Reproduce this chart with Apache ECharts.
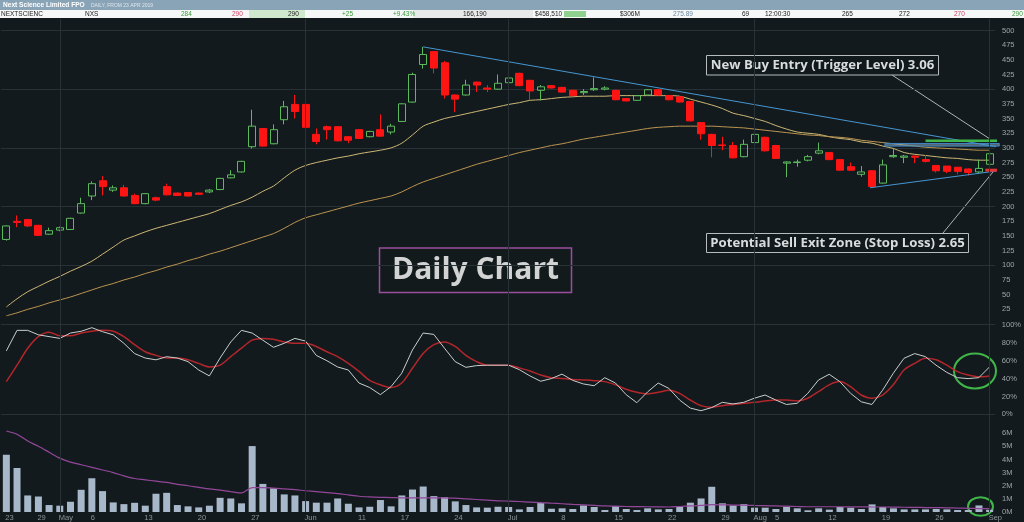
<!DOCTYPE html>
<html>
<head>
<meta charset="utf-8">
<script src="https://cdn.jsdelivr.net/npm/echarts@6/dist/echarts.min.js"></script>
<style>
html,body{margin:0;padding:0;background:#131a1d;}
#chart{width:1024px;height:522px;}
</style>
</head>
<body>
<div id="chart"></div>
<script>
// ---------- categories (trading days 23 Apr 2019 .. 2 Sep 2019, ASX) ----------
const firstDay = '2019-04-23';
const lastDay = '2019-09-02';
const holidays = ['2019-04-25', '2019-06-10'];
const dates = [];
(function () {
  let d = new Date(firstDay + 'T00:00:00Z');
  const end = new Date(lastDay + 'T00:00:00Z');
  while (d <= end) {
    const s = d.toISOString().slice(0, 10);
    const wd = d.getUTCDay();
    if (wd !== 0 && wd !== 6 && holidays.indexOf(s) < 0) dates.push(s);
    d = new Date(d.getTime() + 86400000);
  }
})();

// ---------- tick labels ----------
const tickLabels = {
  '2019-04-23': '23', '2019-04-29': '29', '2019-05-01': 'May', '2019-05-06': '6',
  '2019-05-13': '13', '2019-05-20': '20', '2019-05-27': '27', '2019-06-03': 'Jun',
  '2019-06-11': '11', '2019-06-17': '17', '2019-06-24': '24', '2019-07-01': 'Jul',
  '2019-07-08': '8', '2019-07-15': '15', '2019-07-22': '22', '2019-07-29': '29',
  '2019-08-01': 'Aug', '2019-08-05': '5', '2019-08-12': '12', '2019-08-19': '19',
  '2019-08-26': '26', '2019-09-02': 'Sep'
};
const monthStarts = ['2019-05-01', '2019-06-03', '2019-07-01', '2019-08-01', '2019-09-02'];

// ---------- price (cents) ----------
const opens  = [144,175,178,168,153,160,161,189,218,244, 228,232,219,205,215,234,223,224,223,225,
                229,249,259,302,333,307,348,374,374,323, 336,336,319,331,319,331,327,345,378,442,
                464,445,390,390,412,402,400,411,427,415, 398,406,403,398,394,399,400,398,384,381,
                390,399,389,387,379,343,323,305,304,285, 309,318,304,274,275,279,291,292,280,268,
                255,261,240,285,284,286,280,270,269,267, 264,259,272];
const closes = [167,173,167,151,159,164,180,205,239,234, 232,218,205,222,211,220,219,218,221,228,
                248,254,277,337,303,331,370,362,335,311, 331,312,313,316,328,320,337,375,425,459,
                436,390,383,407,407,400,410,419,406,397, 404,402,395,389,396,401,402,382,380,389,
                399,390,382,378,346,324,304,304,283,306, 323,295,282,276,276,285,295,280,262,262,
                259,234,271,287,286,284,277,261,260,260, 258,265,290];
const lows   = [142,165,165,150,152,158,160,188,211,219, 225,217,204,204,209,219,218,217,220,223,
                228,248,258,299,302,306,340,350,334,306, 314,311,308,315,318,319,323,344,377,435,
                427,384,361,389,395,395,399,410,405,381, 381,401,394,388,390,397,398,381,379,380,
                389,389,381,377,345,314,284,296,282,284, 308,294,281,250,268,277,289,279,261,261,
                251,233,239,283,274,274,275,258,257,255, 253,257,270];
const highs  = [168,185,179,169,164,166,181,215,243,252, 236,237,222,223,217,239,224,225,224,230,
                249,262,278,365,334,340,380,390,375,333, 338,337,320,332,329,357,341,376,428,472,
                465,448,391,416,413,407,425,428,428,416, 407,407,404,399,400,420,405,399,385,390,
                400,400,390,388,380,344,324,319,310,314, 324,319,305,277,280,288,309,293,281,275,
                269,262,280,300,288,287,288,268,267,266, 265,280,291];

// ---------- moving averages on price ----------
const maFast = [29,43,55,64,73,81,90,98,107,119, 131,143,150,157,163,168,173,178,183,188,
                195,202,208,216,226,235,249,262,270,275, 279,283,286,290,293,296,300,308,322,337,
                344,350,354,358,362,366,370,374,377,381, 382,384,386,387,388,388,388,389,389,389,
                389,389,389,388,383,378,373,367,359,355, 350,345,338,332,327,325,323,319,316,314,
                310,308,303,299,292,289,287,285,283,282, 280,279,279];
const maSlow = [14,19,25,30,36,41,46,52,58,64, 69,75,80,86,91,97,102,108,113,119,
                124,130,136,142,148,154,163,173,181,186, 191,196,201,206,210,214,218,225,234,242,
                248,254,260,266,272,277,282,287,292,296, 300,304,307,311,315,318,321,324,327,330,
                333,335,336,337,337,337,337,336,335,334, 332,330,328,326,324,322,321,319,318,316,
                313,311,309,307,305,303,301,300,299,298, 297,296,296];

// ---------- stochastic (%) ----------
const stochK = [71,94,94,89,87,85,91,93,97,92.5, 89,79.5,68,63,61,64.5,63,59,49.6,43,
                63,81,94,91,83,75,79.5,85,82,66, 60,53,49.6,35,30,22,31,46,72,91,
                89.5,74,59,52.6,54.5,55,55,55,50,43, 37,40,45,38,34,32,41,35,22,13,
                25,35,29,16,7,4,7.5,13.4,11.6,13.4, 18,21.6,16,11,12.3,23.5,38.4,44.8,36.6,23.5,
                14,11,27,46,62.7,68,64.6,55,47,41, 40,41,53];
const stochD = [36.6,55,74,87,92,88,88,91,93,94, 93,87,78,70,66,63,63,61,57,53,
                55,64.5,74,83,85,84,81,79.5,79.5,76, 70,64.5,57,48,38,33,30,35,51.5,68,
                78,81,76,66,59,55,55,55,52,48.5, 44,41,40,39,38.4,37.7,36.6,33,28,24.6,
                22.8,24.6,27,23.5,16,9.7,7.8,9.7,11,12.3, 13.4,15,16,16,15,18,25.4,33,36.6,31,
                21.6,18,21.6,33,49.6,57,62.7,61,55,47.8, 44,42,43];

// ---------- volume (millions) ----------
const volume = [4.36,3.35,1.26,1.18,0.53,0.48,0.78,1.69,2.57,1.59, 0.73,0.6,0.7,0.48,1.39,1.46,0.53,0.43,0.35,0.48,
                1.08,1.03,0.66,5.02,2.14,1.81,1.34,1.26,0.83,0.71, 0.71,1.03,0.63,0.35,0.4,0.91,0.43,1.26,1.71,1.94,
                1.21,1.13,0.81,0.53,0.35,0.33,0.4,0.38,0.2,0.38, 0.68,0.25,0.28,0.23,0.5,0.38,0.15,0.45,0.23,0.15,
                0.28,0.2,0.23,0.4,0.71,1.03,1.92,0.66,0.5,0.6, 0.33,0.33,0.23,0.4,0.28,0.13,0.28,0.18,0.38,0.33,
                0.23,0.58,0.38,0.28,0.2,0.2,0.2,0.23,0.2,0.15, 0.15,0.5,0.17];
const volumeMA = [6.17,5.92,5.4,5.0,4.55,4.1,3.8,3.6,3.4,3.2, 3.0,2.75,2.55,2.45,2.35,2.25,2.1,2.0,1.88,1.76,
                  1.66,1.55,1.45,1.85,1.85,1.82,1.76,1.7,1.62,1.55, 1.48,1.4,1.3,1.2,1.15,1.12,1.1,1.08,1.08,1.08,
                  1.08,1.08,1.05,1.0,0.95,0.9,0.85,0.83,0.8,0.75, 0.72,0.67,0.63,0.58,0.54,0.5,0.46,0.44,0.42,0.41,
                  0.4,0.39,0.38,0.42,0.46,0.5,0.56,0.55,0.53,0.52, 0.5,0.48,0.46,0.44,0.42,0.4,0.4,0.4,0.4,0.39,
                  0.39,0.38,0.38,0.37,0.36,0.35,0.34,0.33,0.32,0.3, 0.28,0.26,0.25];

// ---------- drawn lines (x in trading-day index, y in cents) ----------
const trendUpper = [[39, 472], [92.9, 301]];
const trendLower = [[80.8, 232], [93.2, 262]];
const resistanceBox = [[82.2, 92.9, 303, 307.5]];
const triggerLine = [[86.0, 312], [93.2, 312]];
const stopLine = [[91.6, 262], [93.2, 262]];

// ---------- header texts ----------
const headerTitle = 'Next Science Limited FPO';
const headerSub = 'DAILY, FROM 23 APR 2019';
const headerCells = [
  ['NEXTSCIENC', 1, '#222'], ['NXS', 85, '#222'], ['284', 181, '#3c9a3c'], ['290', 232, '#d0456a'],
  ['290', 288, '#222'], ['+25', 342, '#3c9a3c'], ['+9.43%', 393, '#3c9a3c'], ['166,190', 463, '#222'],
  ['$458,510', 535, '#222'], ['$306M', 620, '#222'], ['275.89', 673, '#6a86a0'], ['69', 742, '#222'],
  ['12:00:30', 765, '#222'], ['265', 842, '#222'], ['272', 899, '#222'], ['270', 954, '#d0456a'],
  ['290', 1012, '#3c9a3c']
];

// ---------- build ----------
const ohlc = dates.map((d, i) => [opens[i], closes[i], lows[i], highs[i]]);
const BG = '#131a1d';
const GRID = '#283236';
const AX = '#9ba5a9';
const FONT = 'Liberation Sans';

const chart = echarts.init(document.getElementById('chart'), null, {renderer: 'canvas'});

const monthLines = {
  silent: true, symbol: ['none', 'none'], label: {show: false},
  lineStyle: {color: GRID, width: 1, type: 'solid'},
  emphasis: {disabled: true},
  data: monthStarts.map(m => ({xAxis: m}))
};

function catAxis(gridIndex, showLabels) {
  return {
    type: 'category', gridIndex, data: dates, boundaryGap: true,
    axisLine: {show: false}, axisTick: {show: false}, splitLine: {show: false},
    axisLabel: showLabels ? {
      show: true, interval: (i, v) => tickLabels[v] !== undefined,
      formatter: v => tickLabels[v] || '', color: '#8a9599', fontSize: 7.5,
      fontFamily: FONT, margin: 2, align: 'left', padding: [0, 0, 0, -1]
    } : {show: false}
  };
}
function yLabelAxis(gridIndex, min, max, interval, fmt) {
  return {
    type: 'value', gridIndex, position: 'right', min, max, interval,
    axisLine: {show: false}, axisTick: {show: false}, splitLine: {show: false},
    axisLabel: {color: AX, fontSize: 7.5, fontFamily: FONT, margin: 7, formatter: fmt}
  };
}
function yGridAxis(gridIndex, min, max, interval) {
  return {
    type: 'value', gridIndex, position: 'right', min, max, interval,
    axisLine: {show: false}, axisTick: {show: false}, axisLabel: {show: false},
    splitLine: {show: true, showMaxLine: false, lineStyle: {color: GRID, width: 1}}
  };
}

const graphics = [
  {type: 'rect', shape: {x: 0, y: 0, width: 1024, height: 10}, style: {fill: '#8aa4b7'}, silent: true},
  {type: 'text', x: 3, y: 5, style: {text: headerTitle, fill: '#ffffff', font: 'bold 6.6px "Liberation Sans"', textVerticalAlign: 'middle'}},
  {type: 'text', x: 91, y: 5.5, style: {text: headerSub, fill: '#dde6ec', font: '5px "Liberation Sans"', textVerticalAlign: 'middle'}},
  {type: 'rect', shape: {x: 0, y: 10, width: 1024, height: 8}, style: {fill: '#f6f7f7'}, silent: true},
  {type: 'rect', shape: {x: 249, y: 10, width: 56, height: 8}, style: {fill: '#cfe9cf'}, silent: true},
  {type: 'rect', shape: {x: 413, y: 10, width: 120, height: 8}, style: {fill: '#e8eaea'}, silent: true},
  {type: 'rect', shape: {x: 564, y: 11, width: 22, height: 6}, style: {fill: '#8fd08f'}, silent: true}
];
headerCells.forEach(c => graphics.push({
  type: 'text', x: c[1], y: 14.2,
  style: {text: c[0], fill: c[2], font: '6.5px "Liberation Sans"', textVerticalAlign: 'middle'}
}));
// annotation callouts
graphics.push(
  {type: 'line', shape: {x1: 892, y1: 75, x2: 990, y2: 139}, style: {stroke: '#aeb3b3', lineWidth: 1}},
  {type: 'line', shape: {x1: 943, y1: 233, x2: 993, y2: 172}, style: {stroke: '#aeb3b3', lineWidth: 1}},
  {type: 'rect', shape: {x: 706.5, y: 55.5, width: 232, height: 19.5}, style: {fill: 'rgba(19,26,29,0.9)', stroke: '#b8bcbc', lineWidth: 1}},
  {type: 'text', x: 822.5, y: 65.5, style: {text: 'New Buy Entry (Trigger Level) 3.06', fill: '#d8dcdc', font: 'bold 13.2px "Open Sans"', textAlign: 'center', textVerticalAlign: 'middle'}},
  {type: 'rect', shape: {x: 706.5, y: 233.5, width: 262, height: 19}, style: {fill: 'rgba(19,26,29,0.9)', stroke: '#b8bcbc', lineWidth: 1}},
  {type: 'text', x: 837.5, y: 243.2, style: {text: 'Potential Sell Exit Zone (Stop Loss) 2.65', fill: '#d8dcdc', font: 'bold 13.2px "Open Sans"', textAlign: 'center', textVerticalAlign: 'middle'}},
  {type: 'rect', shape: {x: 379.5, y: 248, width: 192, height: 44.5}, style: {fill: 'rgba(19,26,29,0.6)', stroke: '#9a4f9e', lineWidth: 1.5}},
  {type: 'text', x: 475.5, y: 270.5, style: {text: 'Daily Chart', fill: '#d2d4d4', font: 'bold 30px "Open Sans"', textAlign: 'center', textVerticalAlign: 'middle'}},
  {type: 'ellipse', shape: {cx: 975, cy: 371, rx: 21, ry: 17.5}, style: {fill: 'none', stroke: '#3fb54a', lineWidth: 2}},
  {type: 'ellipse', shape: {cx: 980.5, cy: 506.5, rx: 12.5, ry: 9.3}, style: {fill: 'none', stroke: '#3fb54a', lineWidth: 2}}
);

const option = {
  animation: false,
  backgroundColor: BG,
  textStyle: {fontFamily: FONT},
  grid: [
    {left: 1, right: 29, top: 19, height: 305},
    {left: 1, right: 29, top: 325, height: 89.3},
    {left: 1, right: 29, top: 414.3, height: 98.4}
  ],
  xAxis: [
    catAxis(0, false), catAxis(1, false), catAxis(2, true),
    {type: 'value', gridIndex: 0, min: -0.5, max: 92.5, show: false}
  ],
  yAxis: [
    yLabelAxis(0, 0, 519.5, 25, v => (v >= 25 && v <= 500 && v % 25 === 0) ? String(v) : ''),
    yGridAxis(0, 0, 519.5, 100),
    yLabelAxis(1, 0, 100, 20, v => (v % 20 === 0) ? v + '%' : ''),
    yGridAxis(1, 0, 100, 100),
    yLabelAxis(2, 0, 7.44, 1, v => (Number.isInteger(v) && v <= 6) ? v + 'M' : '')
  ],
  series: [
    {
      name: 'Price', type: 'candlestick', xAxisIndex: 0, yAxisIndex: 0, data: ohlc,
      barWidth: 7.5,
      itemStyle: {color: 'transparent', color0: '#ff1414', borderColor: '#5cba5c', borderColor0: '#ff1414', borderWidth: 1},
      markLine: monthLines, silent: true
    },
    {name: 'MA fast', type: 'line', xAxisIndex: 0, yAxisIndex: 0, data: maFast, showSymbol: false, smooth: 0.3,
     lineStyle: {color: '#cdb775', width: 1}, silent: true, z: 1},
    {name: 'MA slow', type: 'line', xAxisIndex: 0, yAxisIndex: 0, data: maSlow, showSymbol: false, smooth: 0.3,
     lineStyle: {color: '#bb9450', width: 1}, silent: true, z: 1},
    {name: 'Upper trend', type: 'line', xAxisIndex: 3, yAxisIndex: 0, data: trendUpper, showSymbol: false, clip: false,
     lineStyle: {color: '#4596d2', width: 1}, silent: true, z: 3},
    {name: 'Lower trend', type: 'line', xAxisIndex: 3, yAxisIndex: 0, data: trendLower, showSymbol: false, clip: false,
     lineStyle: {color: '#4596d2', width: 1}, silent: true, z: 3},
    {
      name: 'Resistance', type: 'custom', xAxisIndex: 3, yAxisIndex: 0, data: resistanceBox, clip: false, silent: true, z: 3,
      encode: {x: [0, 1], y: [2, 3]},
      renderItem: (params, api) => {
        const p1 = api.coord([api.value(0), api.value(3)]);
        const p2 = api.coord([api.value(1), api.value(2)]);
        return {type: 'rect', shape: {x: p1[0], y: p1[1], width: p2[0] - p1[0], height: p2[1] - p1[1]},
                style: {fill: 'rgba(140,165,185,0.55)', stroke: '#3f86c4', lineWidth: 1}};
      }
    },
    {name: 'Trigger', type: 'line', xAxisIndex: 3, yAxisIndex: 0, data: triggerLine, showSymbol: false, clip: false,
     lineStyle: {color: '#3fb54a', width: 2.5}, silent: true, z: 4},
    {name: 'Stop', type: 'line', xAxisIndex: 3, yAxisIndex: 0, data: stopLine, showSymbol: false, clip: false,
     lineStyle: {color: '#e23434', width: 3}, silent: true, z: 4},
    {name: '%K', type: 'line', xAxisIndex: 1, yAxisIndex: 2, data: stochK, showSymbol: false,
     lineStyle: {color: '#c9cece', width: 1}, silent: true, markLine: monthLines, z: 3},
    {name: '%D', type: 'line', xAxisIndex: 1, yAxisIndex: 2, data: stochD, showSymbol: false, smooth: 0.3,
     lineStyle: {color: '#b3262b', width: 1.5}, silent: true, z: 2},
    {name: 'Volume', type: 'bar', xAxisIndex: 2, yAxisIndex: 4, data: volume, barWidth: 7,
     itemStyle: {color: '#a7b8ca'}, silent: true, markLine: monthLines},
    {name: 'Volume MA', type: 'line', xAxisIndex: 2, yAxisIndex: 4, data: volumeMA, showSymbol: false, smooth: 0.3,
     lineStyle: {color: '#93479a', width: 1.2}, silent: true, z: 3}
  ],
  graphic: graphics
};
chart.setOption(option);
</script>
</body>
</html>
